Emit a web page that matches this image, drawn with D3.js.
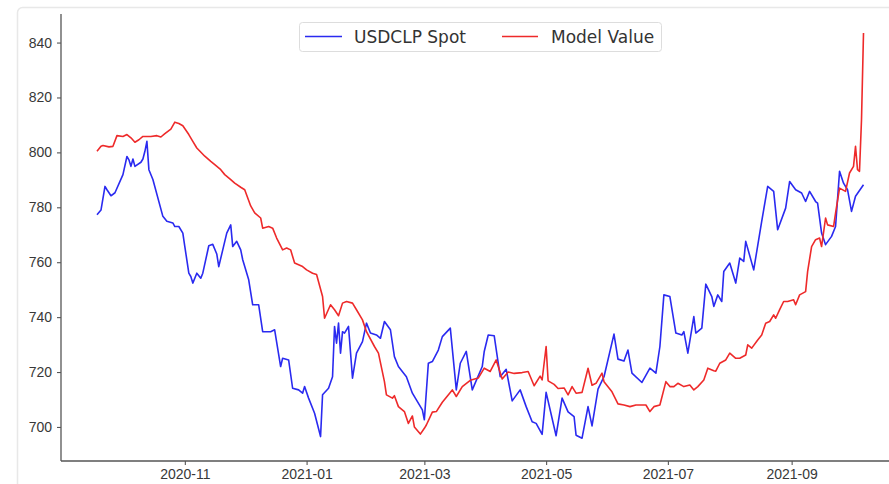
<!DOCTYPE html>
<html>
<head>
<meta charset="utf-8">
<script src="https://cdn.jsdelivr.net/npm/d3@7"></script>
<style>
  html, body { margin: 0; padding: 0; background: #ffffff; }
  svg { display: block; font-family: "DejaVu Sans", "Liberation Sans", sans-serif; }
</style>
</head>
<body>
<svg id="chart" width="889" height="484"></svg>
<script>
// ---------------- data ----------------
const seriesNames = ["USDCLP Spot", "Model Value"];

const spotDates = [
  "2020-09-18","2020-09-20","2020-09-22","2020-09-23","2020-09-25","2020-09-27",
  "2020-10-01","2020-10-03","2020-10-04","2020-10-05","2020-10-06","2020-10-07","2020-10-10","2020-10-11","2020-10-12","2020-10-13","2020-10-14","2020-10-16","2020-10-21","2020-10-23","2020-10-26","2020-10-27","2020-10-29","2020-10-31",
  "2020-11-01","2020-11-03","2020-11-04","2020-11-05","2020-11-07","2020-11-09","2020-11-10","2020-11-13","2020-11-15","2020-11-17","2020-11-18","2020-11-20","2020-11-22","2020-11-24","2020-11-25","2020-11-27","2020-11-29","2020-11-30",
  "2020-12-03","2020-12-05","2020-12-08","2020-12-10","2020-12-14","2020-12-16","2020-12-19","2020-12-20","2020-12-23","2020-12-25","2020-12-28","2020-12-30","2020-12-31",
  "2021-01-02","2021-01-05","2021-01-08","2021-01-09","2021-01-12","2021-01-14","2021-01-15","2021-01-16","2021-01-17","2021-01-18","2021-01-19","2021-01-20","2021-01-22","2021-01-24","2021-01-26","2021-01-29","2021-01-31",
  "2021-02-02","2021-02-05","2021-02-07","2021-02-09","2021-02-12","2021-02-14","2021-02-16","2021-02-20","2021-02-23","2021-02-28",
  "2021-03-01","2021-03-03","2021-03-05","2021-03-08","2021-03-10","2021-03-14","2021-03-17","2021-03-19","2021-03-22","2021-03-25","2021-03-30","2021-03-31",
  "2021-04-02","2021-04-05","2021-04-08","2021-04-11","2021-04-14","2021-04-18","2021-04-21","2021-04-24","2021-04-26","2021-04-29",
  "2021-05-01","2021-05-06","2021-05-09","2021-05-12","2021-05-15","2021-05-16","2021-05-19","2021-05-22","2021-05-24","2021-05-27","2021-05-30",
  "2021-06-04","2021-06-06","2021-06-09","2021-06-11","2021-06-13","2021-06-18","2021-06-22","2021-06-25","2021-06-27","2021-06-29",
  "2021-07-02","2021-07-05","2021-07-08","2021-07-09","2021-07-11","2021-07-14","2021-07-15","2021-07-18","2021-07-20","2021-07-23","2021-07-24","2021-07-26","2021-07-28","2021-07-29",
  "2021-08-01","2021-08-04","2021-08-06","2021-08-08","2021-08-09","2021-08-13","2021-08-17","2021-08-20","2021-08-23","2021-08-25","2021-08-29","2021-08-31",
  "2021-09-03","2021-09-06","2021-09-08","2021-09-10","2021-09-13","2021-09-14","2021-09-16","2021-09-18","2021-09-21","2021-09-23","2021-09-25","2021-09-27","2021-09-29",
  "2021-10-01","2021-10-03","2021-10-07"
];
const spotValues = [
  777.3,779,787.6,786.4,784.2,785.3,
  791.9,798.5,797.3,794.9,797.6,794.9,796.4,797.6,800.4,804.0,793.7,790.1,776.7,774.9,774.3,773.0,773.0,770.6,
  765.7,756.0,754.8,752.4,756.0,754.2,756.0,766,766.5,763,758.4,764.5,770.6,773.6,765.7,767.6,764.5,760.9,
  753.6,744.5,744.5,734.7,734.7,735.4,722,725,724.4,714.1,713.5,712.3,714.7,
  710.5,705,696.5,711.7,714.1,718.3,736.6,730.5,737.8,726.9,734.7,734.2,736.6,717.8,726.9,731.1,737.8,
  734.2,733.5,732.3,738.4,735.4,725.6,722,718.3,712.3,706.2,
  702.6,723.2,723.8,728,732.9,736,713.5,723.2,727.5,713.5,722,727.5,
  733.5,733.2,718.3,721,709.5,713.5,707.4,701.9,701.3,697.3,
  712.6,696.8,710.5,705.5,703.8,697,695.9,707.4,700.4,713.8,718.3,
  733.8,724.7,724,728,719.6,716.2,721.4,719.6,729.3,748.1,
  747.5,734.2,733.5,734.7,726.9,740.2,734.2,736,752,747.5,743.9,748.1,745.7,756.6,
  759.7,752.4,761.5,760.3,767.6,757.2,774.9,787.6,785.8,771.8,779.7,789.4,
  786.4,785.2,782.1,785.8,782.1,781.5,770.6,766.4,769.4,773,793.1,788.8,786.4,
  778.5,784,788.2
];

const modelDates = [
  "2020-09-18","2020-09-20","2020-09-21","2020-09-24","2020-09-26","2020-09-28",
  "2020-10-01","2020-10-03","2020-10-05","2020-10-07","2020-10-09","2020-10-11","2020-10-15","2020-10-18","2020-10-20","2020-10-22","2020-10-25","2020-10-27","2020-10-29","2020-10-31",
  "2020-11-03","2020-11-05","2020-11-07","2020-11-11","2020-11-14","2020-11-16","2020-11-19","2020-11-21","2020-11-24","2020-11-26","2020-11-29",
  "2020-12-01","2020-12-04","2020-12-06","2020-12-09","2020-12-10","2020-12-13","2020-12-15","2020-12-17","2020-12-20","2020-12-22","2020-12-24","2020-12-26","2020-12-30",
  "2021-01-01","2021-01-04","2021-01-06","2021-01-09","2021-01-10","2021-01-13","2021-01-15","2021-01-17","2021-01-19","2021-01-21","2021-01-24","2021-01-26","2021-01-29","2021-01-31",
  "2021-02-04","2021-02-06","2021-02-09","2021-02-10","2021-02-13","2021-02-14","2021-02-16","2021-02-19","2021-02-21","2021-02-23","2021-02-24","2021-02-27",
  "2021-03-01","2021-03-02","2021-03-05","2021-03-07","2021-03-10","2021-03-15","2021-03-17","2021-03-20","2021-03-24","2021-03-28","2021-03-31",
  "2021-04-03","2021-04-06","2021-04-09","2021-04-12","2021-04-15","2021-04-19","2021-04-22","2021-04-25","2021-04-28","2021-04-29",
  "2021-05-01","2021-05-02","2021-05-05","2021-05-07","2021-05-10","2021-05-12","2021-05-14","2021-05-16","2021-05-19","2021-05-22","2021-05-24","2021-05-26","2021-05-29","2021-05-30",
  "2021-06-03","2021-06-06","2021-06-09","2021-06-12","2021-06-15","2021-06-20","2021-06-22","2021-06-24","2021-06-27","2021-06-30",
  "2021-07-02","2021-07-04","2021-07-06","2021-07-09","2021-07-12","2021-07-14","2021-07-16","2021-07-19","2021-07-21","2021-07-24","2021-07-25","2021-07-27","2021-07-30",
  "2021-08-01","2021-08-04","2021-08-06","2021-08-09","2021-08-10","2021-08-12","2021-08-15","2021-08-17","2021-08-19","2021-08-21","2021-08-23","2021-08-24","2021-08-26","2021-08-28","2021-08-30",
  "2021-09-02","2021-09-03","2021-09-05","2021-09-08","2021-09-09","2021-09-11","2021-09-13","2021-09-15","2021-09-16","2021-09-18","2021-09-19","2021-09-22","2021-09-23","2021-09-25","2021-09-28","2021-09-30",
  "2021-10-02","2021-10-03","2021-10-04","2021-10-05","2021-10-06","2021-10-07"
];
const modelValues = [
  800.4,802.2,802.5,802,802.2,806.1,
  805.8,806.5,805.3,803.7,804.6,805.8,805.8,806.1,805.6,806.8,808.5,811,810.5,809.7,
  806.5,804,801.6,798.6,796.7,795.5,793.7,791.9,790.1,788.8,787.3,
  786.4,780.5,778,776.1,772.4,773,772.4,768.8,764.5,765.2,764.5,759.7,758.4,
  757.2,756,755.5,747.5,739.6,744.5,742.7,740.5,745.1,745.7,745.1,742.7,739,734.7,
  729.3,726.9,716.5,711.7,710.5,711.4,707.4,705.6,701.3,704,700,697.4,
  699.5,700.7,705.4,705.6,709,713.5,711.1,714.7,717,717.8,721.4,
  720.2,724.4,717.5,720,719.5,719.8,720.2,715,718.5,717.1,
  729.3,716.8,715.5,714,714.2,711.7,714.7,712.3,712.6,721.4,715.2,715.9,719.6,716.5,
  712.8,708.4,708,707.4,708,708,705.6,707.4,708,716.5,
  714.7,714.7,715.9,714.7,715.3,713.5,714.7,717.1,721.4,720.5,720.3,723.2,724.4,
  726.9,725,725,726.2,729.9,728.7,731.7,733.5,737.8,738.4,740.8,739.6,742.7,745.7,745.7,
  746.3,744.5,748.1,749.3,756.6,765.7,768.2,768.8,765.7,776.1,773.6,773,777.9,787,785.8,792.5,
  794.9,802.2,793.7,793.1,811.9,843.5
];

const xTickDates = ["2020-11-01","2021-01-01","2021-03-01","2021-05-01","2021-07-01","2021-09-01"];
const yTickValues = [700, 720, 740, 760, 780, 800, 820, 840];
const yLimits = [687.6, 850.4];

// ---------------- drawing ----------------
const parse = d3.utcParse("%Y-%m-%d");
const spot = spotDates.map((d, i) => ({ date: parse(d), value: spotValues[i] }));
const model = modelDates.map((d, i) => ({ date: parse(d), value: modelValues[i] }));

const svg = d3.select("#chart");
const axisLeft = 61, axisBottom = 461, axisTop = 14, axisRightEdge = 889;

// faint outer frame (screenshot border)
svg.append("rect")
  .attr("x", 17.5).attr("y", 7.5).attr("width", 900).attr("height", 520)
  .attr("rx", 5).attr("fill", "none").attr("stroke", "#e8e8e8").attr("stroke-width", 1.5);

const allDates = spot.map(d => d.date).concat(model.map(d => d.date));
const x = d3.scaleUtc()
  .domain(d3.extent(allDates))
  .range([97, 863.5]);

const y = d3.scaleLinear()
  .domain(yLimits)
  .range([axisBottom, axisTop]);

// y axis
const gy = svg.append("g")
  .attr("transform", `translate(${axisLeft},0)`)
  .call(d3.axisLeft(y).tickValues(yTickValues).tickSize(4).tickPadding(5).tickFormat(d3.format("d")));
gy.select(".domain").remove();
gy.selectAll(".tick line").attr("stroke", "#555").attr("stroke-width", 1.1);
gy.selectAll(".tick text").attr("fill", "#383838").style("font-size", "14px");

// x axis
const gx = svg.append("g")
  .attr("transform", `translate(0,${axisBottom})`)
  .call(d3.axisBottom(x).tickValues(xTickDates.map(parse)).tickSize(4).tickPadding(4)
    .tickFormat(d3.utcFormat("%Y-%m")));
gx.select(".domain").remove();
gx.selectAll(".tick line").attr("stroke", "#555").attr("stroke-width", 1.1);
gx.selectAll(".tick text").attr("fill", "#383838").style("font-size", "14px");

// spines
svg.append("line")
  .attr("x1", axisLeft).attr("x2", axisLeft).attr("y1", axisTop).attr("y2", axisBottom)
  .attr("stroke", "#555").attr("stroke-width", 1.3);
svg.append("line")
  .attr("x1", axisLeft).attr("x2", axisRightEdge).attr("y1", axisBottom).attr("y2", axisBottom)
  .attr("stroke", "#555").attr("stroke-width", 1.3);

// lines
const line = d3.line().x(d => x(d.date)).y(d => y(d.value));
const colors = ["#2a2af0", "#ee2a2a"];
[spot, model].forEach((data, i) => {
  svg.append("path")
    .datum(data)
    .attr("fill", "none")
    .attr("stroke", colors[i])
    .attr("stroke-width", 1.6)
    .attr("stroke-linejoin", "round")
    .attr("d", line);
});

// legend
const legend = svg.append("g");
legend.append("rect")
  .attr("x", 299.5).attr("y", 22.5).attr("width", 362).attr("height", 29)
  .attr("rx", 3).attr("fill", "#fff").attr("stroke", "#dddddd").attr("stroke-width", 1);
const legendItems = [
  { name: seriesNames[0], color: colors[0], x0: 305, x1: 342, tx: 354 },
  { name: seriesNames[1], color: colors[1], x0: 502, x1: 538, tx: 551 }
];
legendItems.forEach(it => {
  legend.append("line")
    .attr("x1", it.x0).attr("x2", it.x1).attr("y1", 36.5).attr("y2", 36.5)
    .attr("stroke", it.color).attr("stroke-width", 1.6);
  legend.append("text")
    .attr("x", it.tx).attr("y", 37).attr("dy", "0.35em")
    .attr("fill", "#333").style("font-size", "17px")
    .text(it.name);
});
</script>
</body>
</html>
